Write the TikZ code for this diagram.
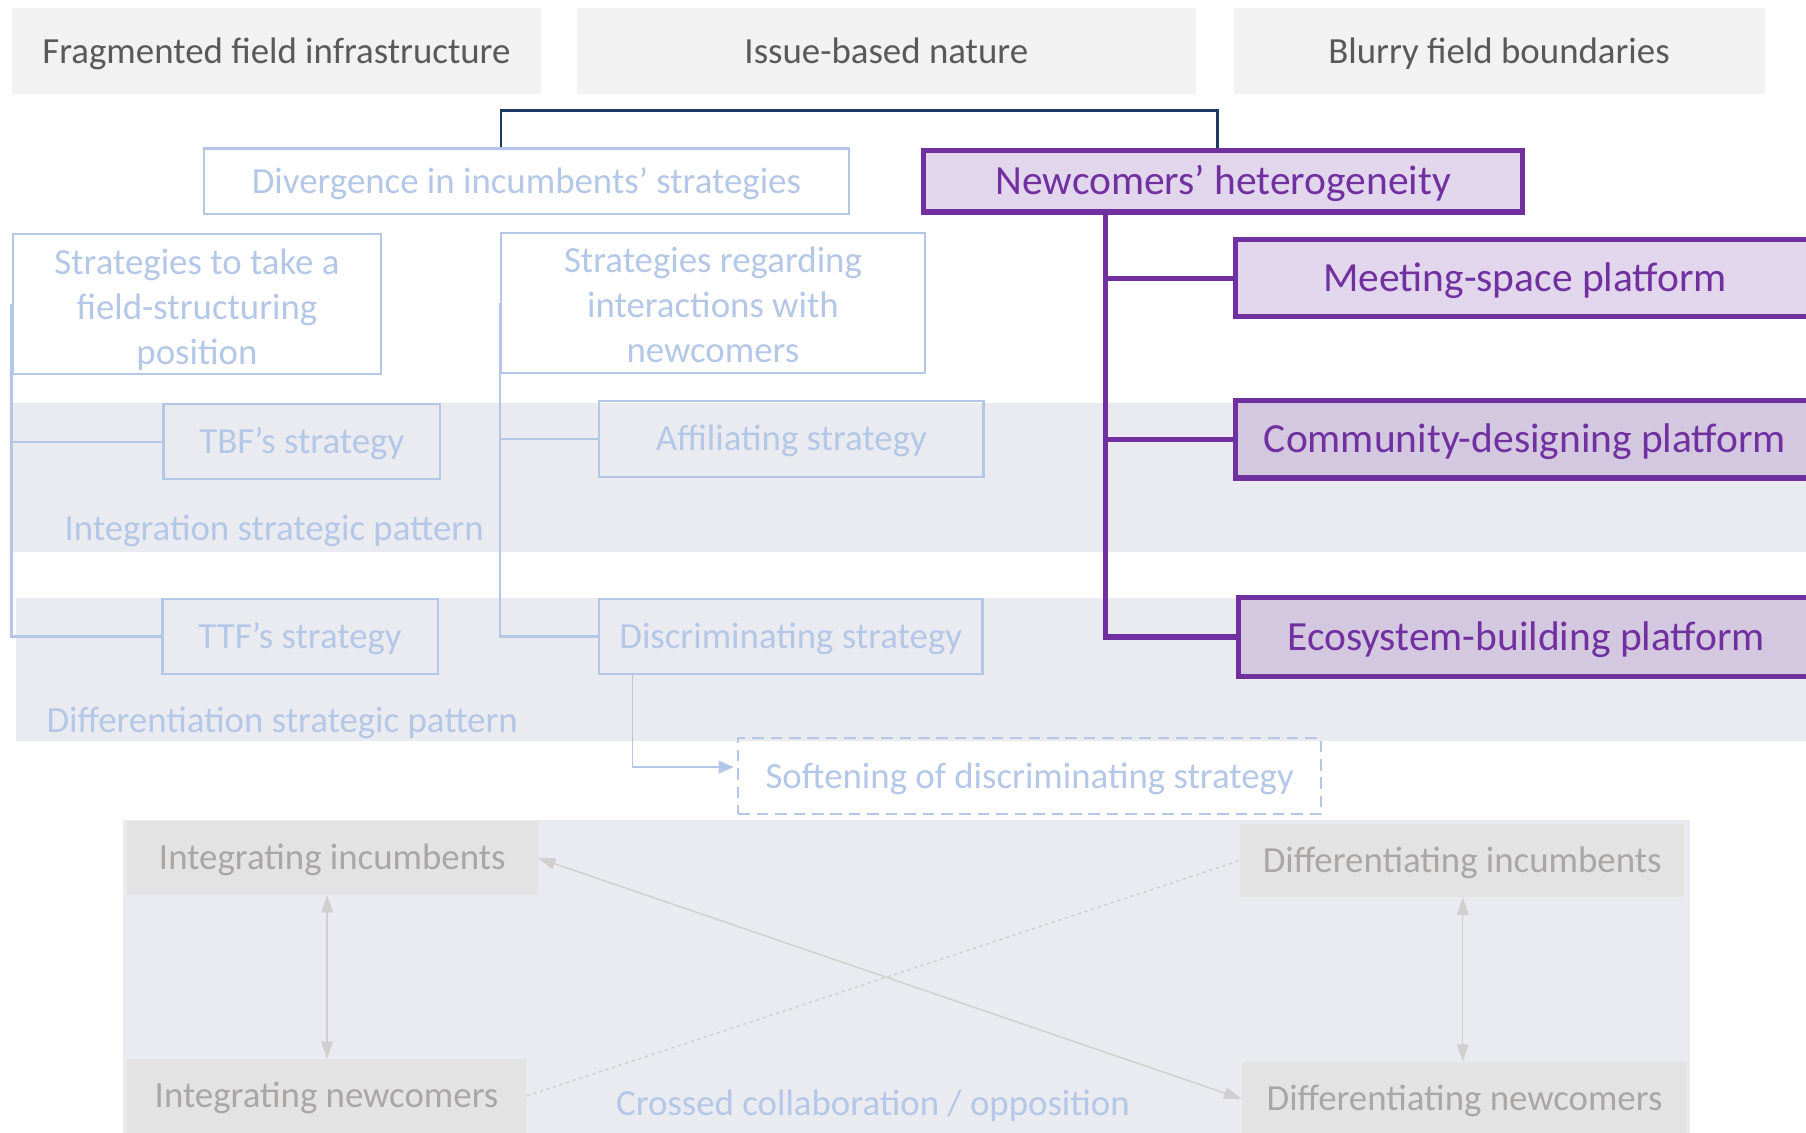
\documentclass[tikz,border=0pt]{standalone}
\usepackage{fontspec}
\setmainfont{Carlito}
\usetikzlibrary{arrows.meta}
\definecolor{lblue}{HTML}{B4C7E7}
\definecolor{band}{HTML}{E9EBF0}
\definecolor{topgray}{HTML}{F2F2F2}
\definecolor{toptext}{HTML}{595959}
\definecolor{navy}{HTML}{1F3864}
\definecolor{purp}{HTML}{7030A0}
\definecolor{lav}{HTML}{E2D6EC}
\definecolor{lavd}{HTML}{D4C8E0}
\definecolor{botgray}{HTML}{E3E3E3}
\definecolor{bottext}{HTML}{A9A6A6}
\definecolor{arrgray}{HTML}{D0CECE}
\begin{document}
\begin{tikzpicture}[x=1pt,y=-1pt,
  txa/.style={text height=26.2pt, text depth=5.8pt},
  txb/.style={text height=29.5pt, text depth=6.5pt},
  topbox/.style={txa, fill=topgray, text=toptext, inner sep=0pt, font=\fontsize{32}{38}\selectfont},
  lboxbase/.style={draw=lblue, line width=2pt, text=lblue, inner sep=0pt, align=center, font=\fontsize{32}{39}\selectfont},
  lbox/.style={txa, lboxbase},
  lline/.style={draw=lblue, line width=2pt},
  ltext/.style={txa, text=lblue, inner sep=0pt, font=\fontsize{32}{38}\selectfont},
  pbox/.style={txb, draw=purp, line width=4.5pt, text=purp, inner sep=0pt, font=\fontsize{36}{43}\selectfont},
  pline/.style={draw=purp, line width=4.5pt},
  gbox/.style={txa, fill=botgray, text=bottext, inner sep=0pt, font=\fontsize{32}{38}\selectfont},
  garrow/.style={draw=arrgray, line width=1.2pt, {Triangle[length=15pt,width=10pt]}-{Triangle[length=15pt,width=10pt]}}
]
\useasboundingbox (0,0) rectangle (1568,983);
% background bands
\fill[band] (10,350) rectangle (1570,479);
\fill[band] (14,519) rectangle (1570,643);
\fill[band] (107,712) rectangle (1467,990);

% top boxes
\node[topbox, minimum width=460pt, minimum height=75pt] (t1) at (240,44.5) {Fragmented field infrastructure};
\node[topbox, minimum width=537pt, minimum height=75pt] (t2) at (769.5,44.5) {Issue-based nature};
\node[topbox, minimum width=461pt, minimum height=75pt] (t3) at (1301.5,44.5) {Blurry field boundaries};

% incumbents side
\node[lbox, minimum width=560pt, minimum height=57pt] (div) at (457,157.5) {Divergence in incumbents’ strategies};
\node[lboxbase, minimum width=320pt, minimum height=122pt] (s1) at (171,264) {\rule{0pt}{32pt}Strategies to take a\\field-structuring\\position};
\node[lboxbase, minimum width=368pt, minimum height=122pt] (s2) at (619,263) {\rule{0pt}{26pt}Strategies regarding\\interactions with\\newcomers};
\node[lbox, minimum width=240pt, minimum height=65pt] (tbf) at (262,383.5) {TBF’s strategy};
\node[lbox, minimum width=239pt, minimum height=65pt] (ttf) at (260.5,552.5) {TTF’s strategy};
\node[lbox, minimum width=334pt, minimum height=66pt] (aff) at (687,381) {Affiliating strategy};
\node[lbox, minimum width=333pt, minimum height=65pt] (disc) at (686.5,552.5) {Discriminating strategy};
\node[lbox, dashed, dash pattern=on 10pt off 6pt, minimum width=506pt, minimum height=66pt] (soft) at (894,674) {Softening of discriminating strategy};
\node[ltext] (ipat) at (238,459) {Integration strategic pattern};
\node[ltext] (dpat) at (245,626) {Differentiation strategic pattern};

\draw[lline] (s1.west) |- (ttf.west);
\draw[lline] (s1.west |- tbf.west) -- (tbf.west);
\draw[lline] (s2.west) |- (disc.west);
\draw[lline] (s2.west |- aff.west) -- (aff.west);
\draw[draw=lblue, line width=1.2pt, -{Triangle[length=13pt,width=11pt]}] ([xshift=-137.5pt]disc.south) |- ([xshift=-3pt,yshift=8pt]soft.west);

% newcomers side
\node[pbox, fill=lav, minimum width=520pt, minimum height=53pt] (newh) at (1062,157.5) {Newcomers’ heterogeneity};
\node[pbox, fill=lav, minimum width=502pt, minimum height=67pt] (meet) at (1324,241.5) {Meeting-space platform};
\node[pbox, fill=lavd, minimum width=502pt, minimum height=67pt] (comm) at (1324,381.5) {Community-designing platform};
\node[pbox, fill=lavd, minimum width=500pt, minimum height=68pt] (eco) at (1325,553) {Ecosystem-building platform};
\draw[pline] ([xshift=-102pt]newh.south) |- (eco.west);
\draw[pline] ([xshift=-102pt]newh.south |- meet.west) -- (meet.west);
\draw[pline] ([xshift=-102pt]newh.south |- comm.west) -- (comm.west);

% navy link
\coordinate (bar) at (746,96);
\draw[navy, line width=2pt] ([xshift=-22pt]div.north) |- (bar) -| ([xshift=-5pt]newh.north);

% bottom quadrant
\node[gbox, minimum width=357pt, minimum height=64pt] (ii) at (288.5,745) {Integrating incumbents};
\node[gbox, minimum width=347pt, minimum height=64pt] (in) at (283.5,951.5) {Integrating newcomers};
\node[gbox, minimum width=385pt, minimum height=64pt] (di) at (1269.5,747) {Differentiating incumbents};
\node[gbox, minimum width=387pt, minimum height=64pt] (dn) at (1271.5,954) {Differentiating newcomers};
\node[ltext] (cross) at (758,958) {Crossed collaboration / opposition};

\draw[garrow] ([xshift=-4.5pt]ii.south) -- ([xshift=0.5pt]in.north);
\draw[garrow] ([xshift=0.5pt]di.south) -- ([xshift=-1.5pt]dn.north);
\draw[garrow] (ii.east) -- (dn.west);
\draw[draw=arrgray, line width=1.2pt, dashed] (in.east) -- (di.west);
\end{tikzpicture}
\end{document}
